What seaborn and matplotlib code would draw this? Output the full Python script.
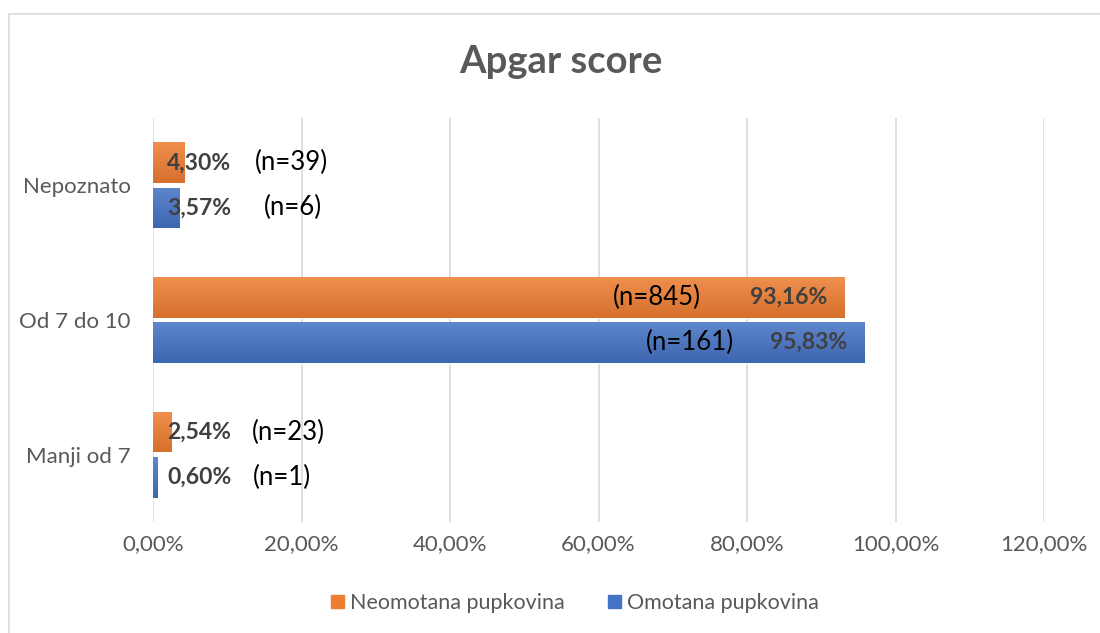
import numpy as np
import pandas as pd
import matplotlib
matplotlib.use("Agg")
import matplotlib.pyplot as plt
import matplotlib.colors as mcolors
from matplotlib.patches import Rectangle
import seaborn as sns

# data
categories = ["Nepoznato", "Od 7 do 10", "Manji od 7"]
groups = ["Neomotana pupkovina", "Omotana pupkovina"]
neomotana_pct = [4.30, 93.16, 2.54]
omotana_pct = [3.57, 95.83, 0.60]
neomotana_n = [39, 845, 23]
omotana_n = [6, 161, 1]

df = pd.DataFrame({
    "kategorija": categories * 2,
    "grupa": [groups[0]] * 3 + [groups[1]] * 3,
    "postotak": neomotana_pct + omotana_pct,
    "n": neomotana_n + omotana_n,
})

orange = "#ED7D31"
blue = "#4472C4"

sns.set_theme(style="white")
plt.rcParams["font.family"] = ["Lato", "DejaVu Sans"]

fig = plt.figure(figsize=(11, 6.33), dpi=100)
ax = fig.add_axes([153 / 1100, 1 - 522 / 633, (1044 - 153) / 1100, (522 - 118) / 633])

sns.barplot(data=df, y="kategorija", x="postotak", hue="grupa",
            order=categories, hue_order=groups,
            palette=[orange, blue], saturation=1, orient="h", width=0.67, gap=0.1,
            legend=False, ax=ax)

# Excel style vertical gradient on each bar
for patch in list(ax.patches):
    x0, y0 = patch.get_x(), patch.get_y()
    w, h = patch.get_width(), patch.get_height()
    base = np.array(mcolors.to_rgb(patch.get_facecolor()))
    light = base + (1 - base) * 0.14
    dark = base * 0.9
    grad = np.linspace(0, 1, 50)[:, None]
    img = light[None, None, :] * (1 - grad[..., None]) + dark[None, None, :] * grad[..., None]
    img = np.repeat(img, 2, axis=1)
    im = ax.imshow(img, extent=[x0, x0 + w, y0 + h, y0], aspect="auto",
                   origin="upper", zorder=patch.get_zorder() + 0.1)
    im.set_clip_path(patch)

ax.set_xlim(0, 120)
ax.set_ylim(2.5, -0.5)
ax.set_xticks(np.arange(0, 121, 20))
ax.set_xticklabels([f"{v:.2f}%".replace(".", ",") for v in np.arange(0, 121, 20)])
ax.grid(axis="x", color="#D9D9D9", linewidth=1.2)
ax.set_axisbelow(True)
for s in ax.spines.values():
    s.set_visible(False)
ax.tick_params(axis="both", length=0, labelsize=16, colors="#595959", pad=9)
ax.tick_params(axis="y", pad=16)
ax.set_xlabel("")
ax.set_ylabel("")

# value labels
offset = 0.67 / 4
n_x = [[18.7, 67.9, 18.2], [18.9, 72.3, 17.4]]
for gi, (pcts, ns) in enumerate([(neomotana_pct, neomotana_n), (omotana_pct, omotana_n)]):
    for ci, (p, n) in enumerate(zip(pcts, ns)):
        y = ci + (offset if gi else -offset)
        lab = f"{p:.2f}%".replace(".", ",")
        if p > 50:
            ax.text(p - 2.3, y, lab, ha="right", va="center", fontsize=16.5,
                    fontweight="bold", color="#404040", zorder=5)
        else:
            ax.text(1.9, y, lab, ha="left", va="center", fontsize=16.5,
                    fontweight="bold", color="#404040", zorder=5)
        ax.text(n_x[gi][ci], y, f"(n={n})", ha="center", va="center",
                fontsize=18.5, color="black", zorder=5)

fig.suptitle("Apgar score", x=561 / 1100, y=1 - 62 / 633, va="center",
             fontsize=27.5, fontweight="bold", color="#595959")

handles = [Rectangle((0, 0), 1, 1, color=orange), Rectangle((0, 0), 1, 1, color=blue)]
fig.legend(handles, groups, loc="center", bbox_to_anchor=(575 / 1100, 1 - 603 / 633),
           ncol=2, frameon=False, fontsize=15.5, labelcolor="#595959",
           handlelength=0.6, handleheight=0.6, handletextpad=0.3, columnspacing=2.0)

# chart area border
fig.patches.append(Rectangle((9 / 1100, -0.1), 1.1, 1 - 14 / 633 + 0.1,
                             transform=fig.transFigure, fill=False,
                             edgecolor="#D9D9D9", linewidth=1.2))

fig.savefig("out.png", dpi=100)
